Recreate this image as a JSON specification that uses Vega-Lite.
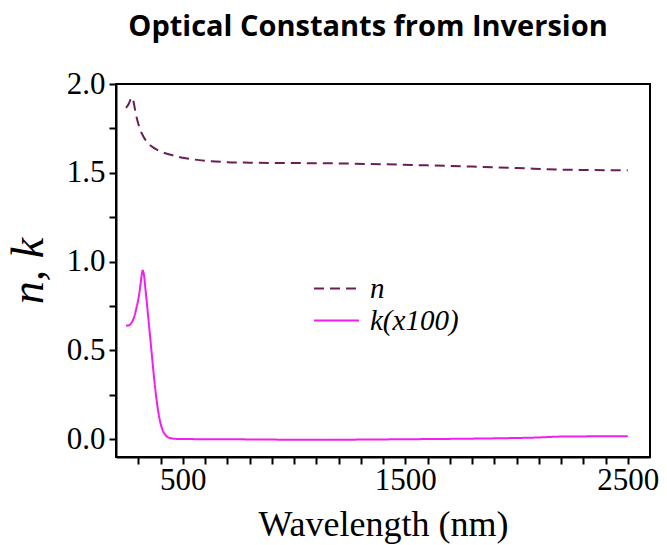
{
  "$schema": "https://vega.github.io/schema/vega-lite/v6.json",
  "autosize": {"type": "none"},
  "padding": {"left": 116, "top": 84, "right": 17, "bottom": 88},
  "width": 534,
  "height": 373,
  "background": "white",
  "title": {
    "text": "Optical Constants from Inversion",
    "font": "Open Sans",
    "fontSize": 29,
    "fontWeight": "bold",
    "color": "black",
    "anchor": "middle",
    "frame": "group",
    "dx": -15,
    "offset": 26
  },
  "data": {
    "values": [
      {"wl": 245, "v": 1.865, "s": "n"},
      {"wl": 258, "v": 1.89, "s": "n"},
      {"wl": 266, "v": 1.915, "s": "n"},
      {"wl": 272, "v": 1.925, "s": "n"},
      {"wl": 278, "v": 1.905, "s": "n"},
      {"wl": 285, "v": 1.86, "s": "n"},
      {"wl": 295, "v": 1.8, "s": "n"},
      {"wl": 310, "v": 1.74, "s": "n"},
      {"wl": 325, "v": 1.7, "s": "n"},
      {"wl": 345, "v": 1.665, "s": "n"},
      {"wl": 370, "v": 1.64, "s": "n"},
      {"wl": 400, "v": 1.62, "s": "n"},
      {"wl": 450, "v": 1.6, "s": "n"},
      {"wl": 500, "v": 1.585, "s": "n"},
      {"wl": 550, "v": 1.575, "s": "n"},
      {"wl": 600, "v": 1.568, "s": "n"},
      {"wl": 700, "v": 1.56, "s": "n"},
      {"wl": 800, "v": 1.557, "s": "n"},
      {"wl": 1000, "v": 1.555, "s": "n"},
      {"wl": 1200, "v": 1.553, "s": "n"},
      {"wl": 1400, "v": 1.548, "s": "n"},
      {"wl": 1600, "v": 1.542, "s": "n"},
      {"wl": 1800, "v": 1.535, "s": "n"},
      {"wl": 2000, "v": 1.527, "s": "n"},
      {"wl": 2200, "v": 1.518, "s": "n"},
      {"wl": 2400, "v": 1.515, "s": "n"},
      {"wl": 2500, "v": 1.514, "s": "n"},
      {"wl": 245, "v": 0.64, "s": "k(x100)"},
      {"wl": 255, "v": 0.64, "s": "k(x100)"},
      {"wl": 263, "v": 0.645, "s": "k(x100)"},
      {"wl": 272, "v": 0.66, "s": "k(x100)"},
      {"wl": 282, "v": 0.69, "s": "k(x100)"},
      {"wl": 292, "v": 0.74, "s": "k(x100)"},
      {"wl": 302, "v": 0.8, "s": "k(x100)"},
      {"wl": 310, "v": 0.87, "s": "k(x100)"},
      {"wl": 316, "v": 0.93, "s": "k(x100)"},
      {"wl": 320, "v": 0.95, "s": "k(x100)"},
      {"wl": 325, "v": 0.93, "s": "k(x100)"},
      {"wl": 332, "v": 0.85, "s": "k(x100)"},
      {"wl": 340, "v": 0.75, "s": "k(x100)"},
      {"wl": 350, "v": 0.62, "s": "k(x100)"},
      {"wl": 360, "v": 0.49, "s": "k(x100)"},
      {"wl": 370, "v": 0.36, "s": "k(x100)"},
      {"wl": 380, "v": 0.245, "s": "k(x100)"},
      {"wl": 390, "v": 0.155, "s": "k(x100)"},
      {"wl": 400, "v": 0.09, "s": "k(x100)"},
      {"wl": 410, "v": 0.05, "s": "k(x100)"},
      {"wl": 420, "v": 0.028, "s": "k(x100)"},
      {"wl": 430, "v": 0.014, "s": "k(x100)"},
      {"wl": 445, "v": 0.006, "s": "k(x100)"},
      {"wl": 470, "v": 0.002, "s": "k(x100)"},
      {"wl": 500, "v": 0.001, "s": "k(x100)"},
      {"wl": 700, "v": 0.0, "s": "k(x100)"},
      {"wl": 900, "v": -0.002, "s": "k(x100)"},
      {"wl": 1100, "v": -0.003, "s": "k(x100)"},
      {"wl": 1300, "v": -0.002, "s": "k(x100)"},
      {"wl": 1500, "v": 0.0, "s": "k(x100)"},
      {"wl": 1700, "v": 0.002, "s": "k(x100)"},
      {"wl": 1900, "v": 0.005, "s": "k(x100)"},
      {"wl": 2100, "v": 0.01, "s": "k(x100)"},
      {"wl": 2200, "v": 0.015, "s": "k(x100)"},
      {"wl": 2300, "v": 0.016, "s": "k(x100)"},
      {"wl": 2500, "v": 0.017, "s": "k(x100)"}
    ]
  },
  "mark": {"type": "line", "strokeWidth": 2, "interpolate": "monotone"},
  "encoding": {
    "x": {
      "field": "wl",
      "type": "quantitative",
      "scale": {"domain": [200, 2600], "nice": false, "zero": false},
      "axis": {
        "title": "Wavelength (nm)",
        "values": [300, 400, 500, 600, 700, 800, 900, 1000, 1100, 1200, 1300, 1400, 1500, 1600, 1700, 1800, 1900, 2000, 2100, 2200, 2300, 2400, 2500],
        "labelExpr": "datum.value % 1000 == 500 ? format(datum.value, 'd') : ''",
        "labelPadding": 1,
        "titlePadding": 12
      }
    },
    "y": {
      "field": "v",
      "type": "quantitative",
      "scale": {"domain": [-0.1, 2.0], "nice": false, "zero": false},
      "axis": {
        "title": "n, k",
        "titleFontStyle": "italic",
        "titleFontSize": 46,
        "values": [0, 0.25, 0.5, 0.75, 1.0, 1.25, 1.5, 1.75, 2.0],
        "labelExpr": "(datum.value * 2) % 1 == 0 ? format(datum.value, '.1f') : ''",
        "titlePadding": 14
      }
    },
    "color": {
      "field": "s",
      "type": "nominal",
      "scale": {"domain": ["n", "k(x100)"], "range": ["#6b1d55", "#f01ff0"]},
      "legend": {
        "title": null,
        "orient": "none",
        "legendX": 204,
        "legendY": 188,
        "symbolType": "M-1.45,0H1.45",
        "symbolSize": 961,
        "symbolStrokeWidth": 2,
        "labelOffset": 17,
        "rowPadding": 0,
        "encode": {
          "symbols": {"update": {"size": {"value": 961}}},
          "labels": {"update": {"font": {"value": "Liberation Serif"}, "fontStyle": {"value": "italic"}}}
        }
      }
    },
    "strokeDash": {
      "field": "s",
      "type": "nominal",
      "scale": {"domain": ["n", "k(x100)"], "range": [[10, 6], [1, 0]]},
      "legend": null
    }
  },
  "config": {
    "font": "Liberation Serif",
    "view": {"stroke": "black", "strokeWidth": 2},
    "legend": {
      "labelFont": "Liberation Serif",
      "labelFontSize": 29,
      "labelFontStyle": "italic",
      "labelColor": "black"
    },
    "axis": {
      "grid": false,
      "domainColor": "black",
      "domainWidth": 2,
      "tickColor": "black",
      "tickWidth": 2,
      "tickSize": 7,
      "labelFont": "Liberation Serif",
      "labelFontSize": 31,
      "labelColor": "black",
      "labelPadding": 4,
      "labelOverlap": false,
      "labelFlush": false,
      "labelBound": false,
      "titleFont": "Liberation Serif",
      "titleFontSize": 36,
      "titleFontWeight": "normal",
      "titleColor": "black"
    }
  }
}
